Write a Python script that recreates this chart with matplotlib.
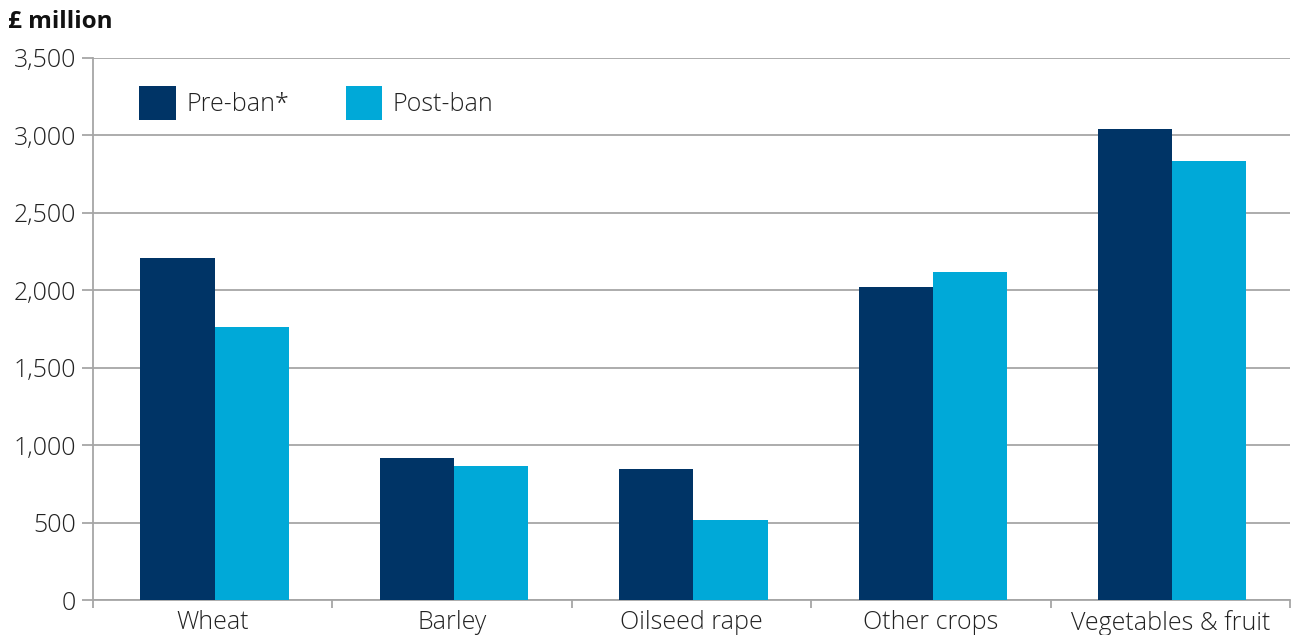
import matplotlib.pyplot as plt
import numpy as np

# crop values, £ million
categories = ["Wheat", "Barley", "Oilseed rape", "Other crops", "Vegetables & fruit"]
pre_ban = [2210, 917, 846, 2021, 3041]
post_ban = [1763, 865, 517, 2118, 2835]
series_names = ["Pre-ban*", "Post-ban"]
yticks = [0, 500, 1000, 1500, 2000, 2500, 3000, 3500]

navy = "#003466"
cyan = "#00A9D8"
grid_col = "#a6a6a6"
text_col = "#222222"

plt.rcParams["font.family"] = ["Open Sans", "DejaVu Sans"]
plt.rcParams["font.weight"] = "light"

fig = plt.figure(figsize=(12.92, 6.35), dpi=100)
ax = fig.add_axes([0.072, 0.0551, 0.9265, 0.8536])

x = np.arange(len(categories))
w = 0.31
ax.bar(x - w / 2 + 0.008, pre_ban, w, color=navy, label=series_names[0], zorder=3)
ax.bar(x + w / 2 + 0.008, post_ban, w, color=cyan, label=series_names[1], zorder=3)

fs = 18

ax.set_xlim(-0.5, len(categories) - 0.5)
ax.set_ylim(0, 3500)
ax.set_yticks(yticks)
ax.set_yticklabels([f"{v:,}" for v in yticks], fontsize=fs, color=text_col)
ax.yaxis.grid(True, color=grid_col, linewidth=1.3, zorder=0)

# category labels centred, ticks on the boundaries
ax.set_xticks(x)
ax.set_xticklabels(categories, fontsize=fs, color=text_col)
ax.tick_params(axis="x", length=0, pad=7)
ax.set_xticks(np.arange(-0.5, len(categories)), minor=True)
ax.tick_params(axis="x", which="minor", length=6, width=1.3, color=grid_col)
ax.tick_params(axis="y", length=8, width=1.3, color=grid_col, pad=4)

for s in ["top", "right"]:
    ax.spines[s].set_visible(False)
for s in ["left", "bottom"]:
    ax.spines[s].set_color(grid_col)
    ax.spines[s].set_linewidth(1.3)

fig.text(0.006, 0.966, "£ million", fontsize=17.5, fontweight="bold", color="#111111", va="center")

ax.legend(loc="upper left", bbox_to_anchor=(0.02, 0.99), ncol=2, frameon=False,
          fontsize=fs, handlelength=1.47, handleheight=1.75, handletextpad=0.42,
          columnspacing=2.25, labelcolor=text_col)

fig.savefig("out.png", dpi=100)
